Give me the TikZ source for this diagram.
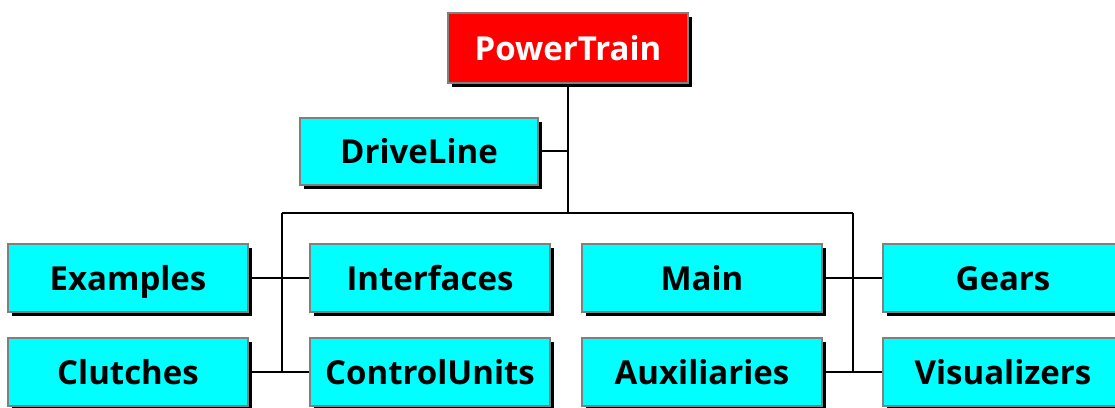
\documentclass[tikz,border=0pt]{standalone}
\usepackage{fontspec}
\setsansfont{Open Sans}
\usetikzlibrary{shadows}
\definecolor{boxcyan}{rgb}{0,1,1}
\definecolor{boxred}{rgb}{1,0,0}
\begin{document}
\begin{tikzpicture}[x=1pt,y=-1pt, line join=miter, font=\sffamily\bfseries\fontsize{33}{36}\selectfont]
		\tikzset{box/.style={draw=gray,line width=2pt,fill=boxcyan,minimum width=240pt,minimum height=68pt,inner sep=0pt,
				text height=24pt,text depth=0pt,
				drop shadow={shadow xshift=4pt,shadow yshift=-4pt,fill=black,opacity=1}},
			rootbox/.style={box,fill=boxred,text=white,minimum height=70pt},
			wire/.style={line width=2.2pt,black}}
		\useasboundingbox (0,0) rectangle (1115,407);
		% top
		\node[rootbox] (pt) at (568,48) {PowerTrain};
		\node[box,minimum width=238pt,minimum height=67pt] (dl) at (419,151) {DriveLine};
		% rows
		\node[box] (ex) at (128,278) {Examples};
		\node[box] (ifc) at (430,278) {Interfaces};
		\node[box] (mn) at (702,278) {Main};
		\node[box] (gr) at (1003,278) {Gears};
		\node[box] (cl) at (128,372) {Clutches};
		\node[box] (cu) at (430,372) {ControlUnits};
		\node[box] (aux) at (702,372) {Auxiliaries};
		\node[box] (vis) at (1003,372) {Visualizers};
		\coordinate (bus) at (568,213);
		\coordinate (lbus) at (282,213);
		\coordinate (rbus) at (853,213);
		\draw[wire] (pt.south) -- (bus) (dl.east) -- (dl.east -| bus);
		\draw[wire] (lbus) -- (rbus);
		\draw[wire] (lbus) -- (lbus |- cl.east) (rbus) -- (rbus |- aux.east);
		\draw[wire] (ex.east) -- (ifc.west) (cl.east) -- (cu.west);
		\draw[wire] (mn.east) -- (gr.west) (aux.east) -- (vis.west);
\end{tikzpicture}
\end{document}
